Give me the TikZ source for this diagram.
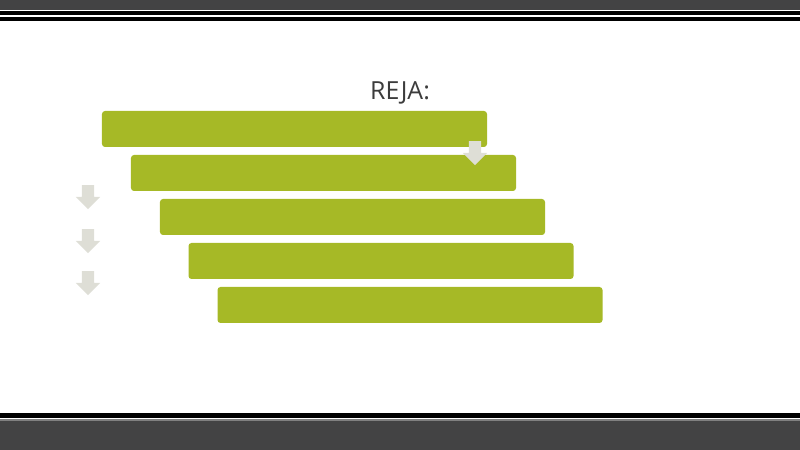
\documentclass[tikz,border=0pt]{standalone}
\usepackage{fontspec}
\setmainfont{Open Sans}
\usetikzlibrary{shapes.arrows}

\definecolor{barGreen}{RGB}{166,185,38}
\definecolor{arrowGrey}{RGB}{222,222,214}
\definecolor{frameGrey}{RGB}{67,67,68}
\definecolor{titleGrey}{RGB}{60,60,60}

\begin{document}
\begin{tikzpicture}[x=1bp,y=-1bp]
\tikzstyle{every node}+=[inner sep=0pt]
\tikzstyle{bar}=[rectangle, rounded corners=3bp, fill=barGreen, minimum width=385bp, minimum height=36bp]
\tikzstyle{downarrow}=[single arrow, rotate=-90, fill=arrowGrey, inner xsep=0pt, inner ysep=6bp, minimum height=24bp, single arrow head extend=6bp, single arrow head indent=0bp]
\useasboundingbox (0,0) rectangle (800,450);
% frame
\fill[frameGrey] (0,0) rectangle (800,10);
\fill[black] (0,11) rectangle (800,15);
\fill[black] (0,17) rectangle (800,21);
\fill[black] (0,413) rectangle (800,418);
\fill[gray] (0,419) rectangle (800,421);
\fill[frameGrey] (0,421) rectangle (800,450);
% title
\node (title) at (400,93) {\fontsize{25}{30}\selectfont\color{titleGrey}REJA:};
% bars
\node[bar] (bar1) at (294.5,129) {};
\node[bar] (bar2) at (323.5,173) {};
\node[bar] (bar3) at (352.5,217) {};
\node[bar] (bar4) at (381,261) {};
\node[bar] (bar5) at (410,305) {};
% arrows
\node[downarrow] (arr1) at (475,150) {};
\node[downarrow] (arr2) at (88,194) {};
\node[downarrow] (arr3) at (88,238) {};
\node[downarrow] (arr4) at (88,280) {};
\end{tikzpicture}
\end{document}
